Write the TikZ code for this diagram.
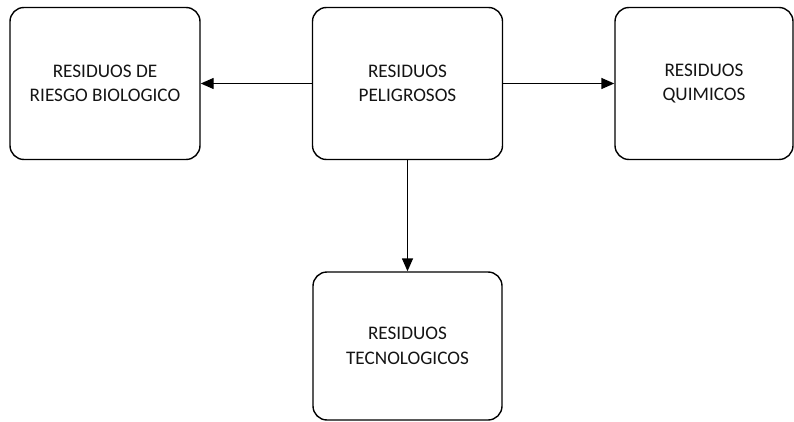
\documentclass[tikz,border=0pt]{standalone}
\usepackage{fontspec}
\setmainfont{Carlito}
\usetikzlibrary{arrows.meta}
\begin{document}
\begin{tikzpicture}[x=1pt,y=-1pt,
  box/.style={draw, line width=1.4pt, rounded corners=14pt, align=center,
    inner sep=0pt, text=black!92, font=\fontsize{19.2}{24.5}\selectfont},
  link/.style={line width=1.4pt, -{Triangle[length=13pt,width=11pt]}}]
  \useasboundingbox (0,0) rectangle (794,422);
  \node[box, minimum width=190pt, minimum height=152pt] (peligrosos) at (407.5,83.5) {RESIDUOS\\PELIGROSOS};
  \node[box, minimum width=190pt, minimum height=152pt] (biologico) at (105,83.5) {RESIDUOS DE\\RIESGO BIOLOGICO};
  \node[box, minimum width=178pt, minimum height=152pt] (quimicos) at (704,83.5) {RESIDUOS\\QUIMICOS};
  \node[box, minimum width=189pt, minimum height=148pt] (tecnologicos) at (407.5,346) {RESIDUOS\\TECNOLOGICOS};
  \draw[link] (peligrosos.west) -- (biologico.east);
  \draw[link] (peligrosos.east) -- (quimicos.west);
  \draw[link] (peligrosos.south) -- (tecnologicos.north);
\end{tikzpicture}
\end{document}
